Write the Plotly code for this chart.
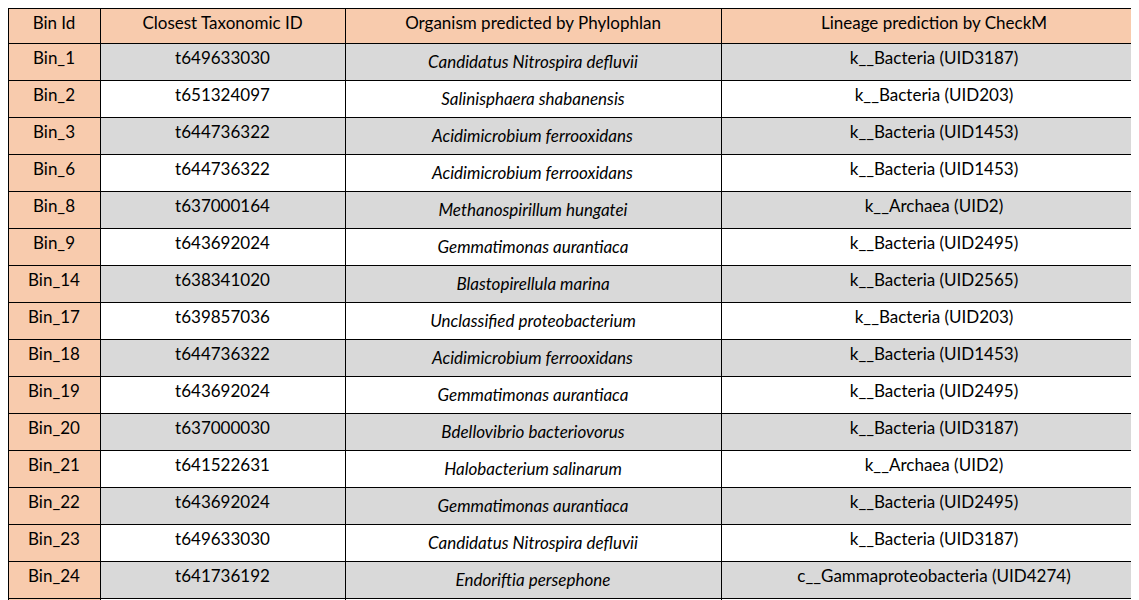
import plotly.graph_objects as go

headers = ["Bin Id", "Closest Taxonomic ID", "Organism predicted by Phylophlan", "Lineage prediction by CheckM"]

bin_ids = ["Bin_1", "Bin_2", "Bin_3", "Bin_6", "Bin_8", "Bin_9", "Bin_14", "Bin_17",
           "Bin_18", "Bin_19", "Bin_20", "Bin_21", "Bin_22", "Bin_23", "Bin_24", "Bin_25"]
tax_ids = ["t649633030", "t651324097", "t644736322", "t644736322", "t637000164", "t643692024",
           "t638341020", "t639857036", "t644736322", "t643692024", "t637000030", "t641522631",
           "t643692024", "t649633030", "t641736192", "t646311917"]
organisms = ["Candidatus Nitrospira defluvii", "Salinisphaera shabanensis", "Acidimicrobium ferrooxidans",
             "Acidimicrobium ferrooxidans", "Methanospirillum hungatei", "Gemmatimonas aurantiaca",
             "Blastopirellula marina", "Unclassified proteobacterium", "Acidimicrobium ferrooxidans",
             "Gemmatimonas aurantiaca", "Bdellovibrio bacteriovorus", "Halobacterium salinarum",
             "Gemmatimonas aurantiaca", "Candidatus Nitrospira defluvii", "Endoriftia persephone",
             "Conexibacter woesei"]
lineages = ["k__Bacteria (UID3187)", "k__Bacteria (UID203)", "k__Bacteria (UID1453)",
            "k__Bacteria (UID1453)", "k__Archaea (UID2)", "k__Bacteria (UID2495)",
            "k__Bacteria (UID2565)", "k__Bacteria (UID203)", "k__Bacteria (UID1453)",
            "k__Bacteria (UID2495)", "k__Bacteria (UID3187)", "k__Archaea (UID2)",
            "k__Bacteria (UID2495)", "k__Bacteria (UID3187)", "c__Gammaproteobacteria (UID4274)",
            "p__Actinobacteria (UID1454)"]

PEACH = "#F8CBAD"
GRAY = "#D9D9D9"
row_fill = [GRAY if i % 2 == 0 else "white" for i in range(len(bin_ids))]
FONT = dict(family="Lato, Open Sans, sans-serif", size=17, color="black")

fig = go.Figure(go.Table(
    columnwidth=[92, 245, 376, 426],
    header=dict(
        values=headers,
        fill_color=PEACH,
        line=dict(color="black", width=1),
        font=FONT,
        align="center",
        height=35,
    ),
    cells=dict(
        values=[bin_ids, tax_ids, ["<i>%s</i>" % o for o in organisms], lineages],
        fill_color=[[PEACH] * len(bin_ids), row_fill, row_fill, row_fill],
        line=dict(color="black", width=1),
        font=FONT,
        align="center",
        height=35,
    ),
    domain=dict(x=[0, 1], y=[0, 1]),
))

fig.update_layout(width=1139, height=600, margin=dict(l=0, r=0, t=0, b=0),
                  paper_bgcolor="white")

fig.write_html("out.html")
